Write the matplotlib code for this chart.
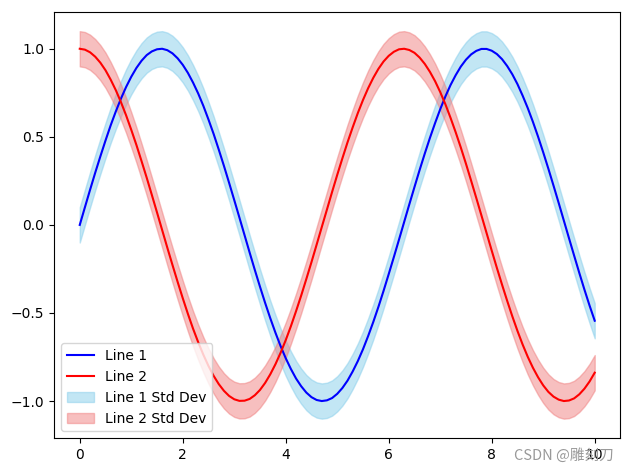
import matplotlib
matplotlib.use("Agg")
import matplotlib.pyplot as plt

x = [0.0, 0.1, 0.2, 0.3, 0.4, 0.5, 0.6, 0.7, 0.8, 0.9,
     1.0, 1.1, 1.2, 1.3, 1.4, 1.5, 1.6, 1.7, 1.8, 1.9,
     2.0, 2.1, 2.2, 2.3, 2.4, 2.5, 2.6, 2.7, 2.8, 2.9,
     3.0, 3.1, 3.2, 3.3, 3.4, 3.5, 3.6, 3.7, 3.8, 3.9,
     4.0, 4.1, 4.2, 4.3, 4.4, 4.5, 4.6, 4.7, 4.8, 4.9,
     5.0, 5.1, 5.2, 5.3, 5.4, 5.5, 5.6, 5.7, 5.8, 5.9,
     6.0, 6.1, 6.2, 6.3, 6.4, 6.5, 6.6, 6.7, 6.8, 6.9,
     7.0, 7.1, 7.2, 7.3, 7.4, 7.5, 7.6, 7.7, 7.8, 7.9,
     8.0, 8.1, 8.2, 8.3, 8.4, 8.5, 8.6, 8.7, 8.8, 8.9,
     9.0, 9.1, 9.2, 9.3, 9.4, 9.5, 9.6, 9.7, 9.8, 9.9, 10.0]

line1 = [0.000, 0.100, 0.199, 0.296, 0.389, 0.479, 0.565, 0.644, 0.717, 0.783,
         0.841, 0.891, 0.932, 0.964, 0.985, 0.997, 1.000, 0.992, 0.974, 0.946,
         0.909, 0.863, 0.808, 0.746, 0.676, 0.598, 0.516, 0.427, 0.335, 0.239,
         0.141, 0.042, -0.058, -0.158, -0.256, -0.351, -0.443, -0.530, -0.612, -0.688,
         -0.757, -0.818, -0.872, -0.916, -0.952, -0.978, -0.994, -1.000, -0.996, -0.983,
         -0.959, -0.926, -0.884, -0.832, -0.773, -0.706, -0.631, -0.551, -0.465, -0.374,
         -0.279, -0.182, -0.083, 0.017, 0.117, 0.215, 0.312, 0.405, 0.494, 0.578,
         0.657, 0.729, 0.794, 0.850, 0.899, 0.938, 0.968, 0.988, 0.999, 0.999,
         0.989, 0.970, 0.941, 0.902, 0.855, 0.799, 0.734, 0.663, 0.585, 0.501,
         0.412, 0.319, 0.223, 0.125, 0.025, -0.075, -0.174, -0.272, -0.367, -0.458, -0.544]

line2 = [1.000, 0.995, 0.980, 0.955, 0.921, 0.878, 0.825, 0.765, 0.697, 0.622,
         0.540, 0.454, 0.362, 0.268, 0.170, 0.071, -0.029, -0.129, -0.227, -0.323,
         -0.416, -0.505, -0.589, -0.666, -0.737, -0.801, -0.857, -0.904, -0.942, -0.971,
         -0.990, -0.999, -0.998, -0.988, -0.967, -0.937, -0.897, -0.848, -0.791, -0.726,
         -0.654, -0.575, -0.490, -0.401, -0.307, -0.211, -0.112, -0.012, 0.087, 0.187,
         0.284, 0.378, 0.469, 0.554, 0.635, 0.709, 0.776, 0.835, 0.886, 0.928,
         0.960, 0.983, 0.997, 1.000, 0.993, 0.977, 0.950, 0.914, 0.869, 0.816,
         0.754, 0.685, 0.608, 0.526, 0.439, 0.347, 0.251, 0.153, 0.054, -0.046,
         -0.146, -0.244, -0.339, -0.431, -0.519, -0.602, -0.679, -0.749, -0.811, -0.865,
         -0.911, -0.948, -0.975, -0.992, -1.000, -0.997, -0.985, -0.962, -0.930, -0.889, -0.839]

std_dev = 0.1

fig, ax = plt.subplots(figsize=(6.28, 4.71), dpi=100)
fig.subplots_adjust(left=0.086, right=0.988, top=0.975, bottom=0.070)

ax.plot(x, line1, color='blue', label='Line 1')
ax.plot(x, line2, color='red', label='Line 2')

lo1 = [v - std_dev for v in line1]
hi1 = [v + std_dev for v in line1]
lo2 = [v - std_dev for v in line2]
hi2 = [v + std_dev for v in line2]
ax.fill_between(x, lo1, hi1, color='skyblue', alpha=0.5, label='Line 1 Std Dev')
ax.fill_between(x, lo2, hi2, color='lightcoral', alpha=0.5, label='Line 2 Std Dev')

ax.legend(loc='lower left')

# watermark
fig.text(0.977, 0.034, 'CSDN @雕刻刀', ha='right', va='center', fontsize=10.5,
         color='#999999', family=['Noto Sans CJK SC', 'DejaVu Sans'])

fig.savefig('out.png', dpi=100)
